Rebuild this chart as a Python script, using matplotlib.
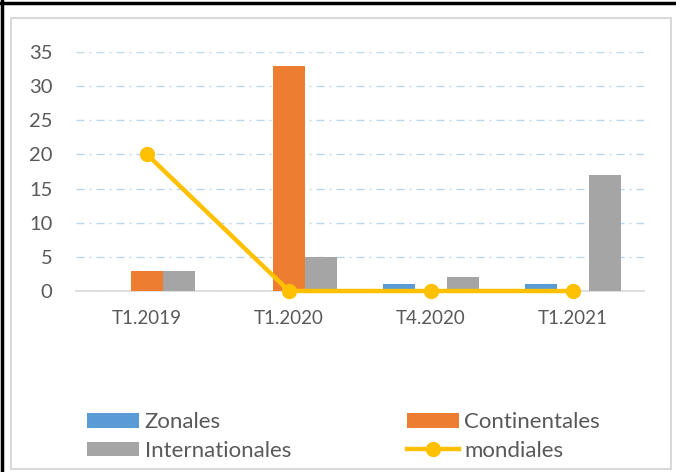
import numpy as np
import matplotlib.pyplot as plt
from matplotlib.patches import Rectangle
from matplotlib.lines import Line2D

categories = ["T1.2019", "T1.2020", "T4.2020", "T1.2021"]
zonales = [0, 0, 1, 1]
continentales = [3, 33, 0, 0]
internationales = [3, 5, 2, 17]
mondiales = [20, 0, 0, 0]

plt.rcParams["font.family"] = ["Lato", "DejaVu Sans"]
txt = "#595959"

fig = plt.figure(figsize=(6.76, 4.72), dpi=100)
ax = fig.add_axes([76 / 676, 181 / 472, 568 / 676, 239 / 472])

x = np.arange(len(categories))
w = 0.225
b1 = ax.bar(x - w, zonales, w, color="#5B9BD5", zorder=2)
b2 = ax.bar(x, continentales, w, color="#ED7D31", zorder=2)
b3 = ax.bar(x + w, internationales, w, color="#A5A5A5", zorder=2)
ln, = ax.plot(x, mondiales, color="#FFC000", lw=3.2, marker="o", ms=10,
              zorder=3, clip_on=False)

ax.set_xlim(-0.5, 3.5)
ax.set_ylim(0, 35)
ax.set_yticks(range(0, 36, 5))
ax.set_xticks(x)
ax.set_xticklabels(categories)
ax.tick_params(length=0, labelsize=13.5, labelcolor=txt)
ax.tick_params(axis="y", labelsize=14.5, pad=17)
ax.tick_params(axis="x", pad=14)
ax.yaxis.grid(True, color="#BDD7EE", lw=1, linestyle=(0, (5.8, 3.6, 1.4, 3.6)), zorder=0)
for s in ["top", "right", "left"]:
    ax.spines[s].set_visible(False)
ax.spines["bottom"].set_color("#D9D9D9")
ax.spines["bottom"].set_linewidth(1.2)
ax.spines["bottom"].set_zorder(1)

# chart area frame and outer black border
fig.patches.append(Rectangle((11 / 676, 3 / 472), 660 / 676, 451 / 472,
                             transform=fig.transFigure, fill=False,
                             ec="#D9D9D9", lw=1.5))
fig.add_artist(Line2D([0, 1], [1 - 3 / 472, 1 - 3 / 472], color="black", lw=2.5,
                      transform=fig.transFigure))
fig.add_artist(Line2D([2 / 676, 2 / 676], [0, 1], color="black", lw=2.5,
                      transform=fig.transFigure))

# ncol=2 fills column by column
handles = [b1, b3, b2, ln]
labels = ["Zonales", "Internationales", "Continentales", "mondiales"]
fig.legend(handles, labels, ncol=2,
           loc="center left", bbox_to_anchor=(78 / 676, 35.5 / 472),
           borderaxespad=0, frameon=False, fontsize=16, labelcolor=txt,
           handlelength=2.35, handleheight=0.63, handletextpad=0.25,
           columnspacing=5.2, labelspacing=0.38)

plt.savefig("out.png", dpi=100)
